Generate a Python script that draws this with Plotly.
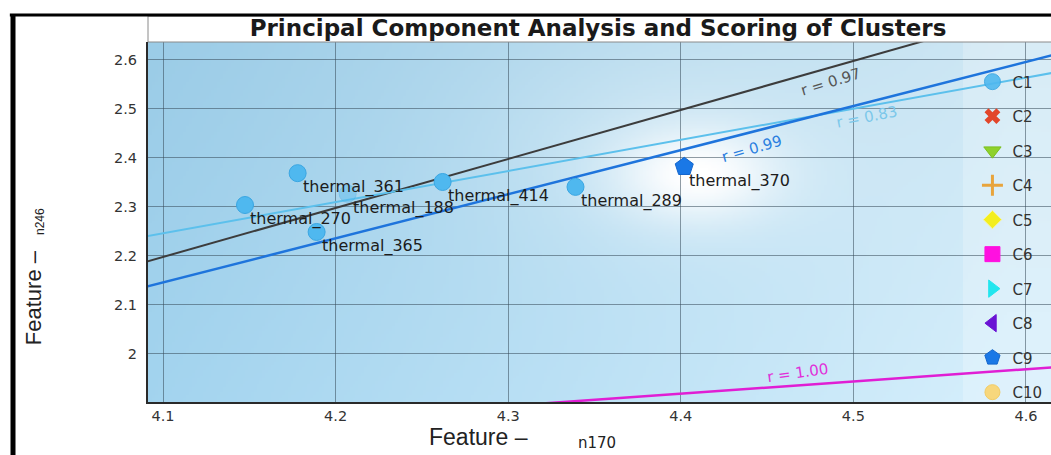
import base64, struct, zlib
import numpy as np
import plotly.graph_objects as go

# ---------------- data ----------------
point_names = ["thermal_361", "thermal_270", "thermal_188", "thermal_365",
               "thermal_414", "thermal_289", "thermal_370"]
point_x = [4.178, 4.1475, 4.207, 4.189, 4.262, 4.339, 4.402]
point_y = [2.369, 2.304, 2.327, 2.249, 2.351, 2.341, 2.382]
point_cluster = ["C1", "C1", "C1", "C1", "C1", "C1", "C9"]

clusters = ["C1", "C2", "C3", "C4", "C5", "C6", "C7", "C8", "C9", "C10"]

fit_labels = ["r = 0.97", "r = 0.83", "r = 0.99", "r = 1.00"]
fit_slope = [1.00, 0.635, 0.90, 0.25]
fit_at_44 = [2.498, 2.437, 2.416, 1.919]     # fitted value at x = 4.4
fit_label_x = [4.487, 4.508, 4.441, 4.468]

x_ticks = [4.1, 4.2, 4.3, 4.4, 4.5, 4.6]
y_ticks = [2.0, 2.1, 2.2, 2.3, 2.4, 2.5, 2.6]

# ---------------- styles ----------------
cluster_style = {
    "C1": dict(symbol="circle", color="#4fb8ef", line=dict(color="#3aa6e2", width=1), size=17),
    "C2": dict(symbol="x", color="#e2462a", line=dict(color="#e2462a", width=0), size=14),
    "C3": dict(symbol="triangle-down", color="#8fd12c", line=dict(color="#7cc020", width=1), size=15),
    "C4": dict(symbol="cross-thin", color="#e8a43c", line=dict(color="#e8a43c", width=3), size=15),
    "C5": dict(symbol="diamond", color="#f3ee1e", line=dict(color="#f7f59a", width=1), size=14),
    "C6": dict(symbol="square", color="#ff10e0", line=dict(color="#ff10e0", width=1), size=15),
    "C7": dict(symbol="triangle-right", color="#22e6ee", line=dict(color="#22e6ee", width=1), size=15),
    "C8": dict(symbol="triangle-left", color="#6a12d4", line=dict(color="#6a12d4", width=1), size=15),
    "C9": dict(symbol="pentagon", color="#1a78e6", line=dict(color="#1466cc", width=1), size=19),
    "C10": dict(symbol="circle", color="#f7d77c", line=dict(color="#f2cc66", width=1), size=15),
}
fit_colors = ["#3c3c3c", "#5cc0ec", "#1e74dc", "#e01ed4"]
fit_label_colors = ["#555555", "#7cc8ea", "#2a7fe0", "#e030d8"]
fit_widths = [2, 2, 2.5, 2.5]
fit_label_angle = [-17, -11, -16, -8]
fit_label_shift = [-15, -11, -17, 12]

X_RANGE = [4.0913, 4.6145]
Y_RANGE = [1.902, 2.6367]

# ---------------- background gradient image ----------------
W, H = 320, 130
u = np.linspace(0, 1, W)[None, :]
v = np.linspace(0, 1, H)[:, None]
c_left = np.array([155, 204, 231], float)
c_right = np.array([206, 231, 244], float)
t = np.clip(u * 1.05, 0, 1)
base = c_left[None, None, :] * (1 - t[..., None]) + c_right[None, None, :] * t[..., None]
base = base + (v[..., None] * 8.0)
glow = np.exp(-(((u - 0.61) / 0.09) ** 2 + ((v - 0.37) / 0.13) ** 2))
glow2 = 0.25 * np.exp(-(((u - 0.58) / 0.20) ** 2 + ((v - 0.30) / 0.30) ** 2))
g = np.clip(glow * 0.8 + glow2, 0, 1)[..., None]
img = base * (1 - g) + 255.0 * g
img = np.clip(img, 0, 255).astype(np.uint8)
raw = b"".join(b"\x00" + img[r].tobytes() for r in range(H))


def _chunk(tag, data):
    return struct.pack(">I", len(data)) + tag + data + struct.pack(">I", zlib.crc32(tag + data) & 0xFFFFFFFF)


png = (b"\x89PNG\r\n\x1a\n"
       + _chunk(b"IHDR", struct.pack(">IIBBBBB", W, H, 8, 2, 0, 0, 0))
       + _chunk(b"IDAT", zlib.compress(raw, 9))
       + _chunk(b"IEND", b""))
bg_uri = "data:image/png;base64," + base64.b64encode(png).decode()

# ---------------- figure ----------------
fig = go.Figure()

line_x = np.array([4.0, 4.7])
for lab, m, b44, col, w in zip(fit_labels, fit_slope, fit_at_44, fit_colors, fit_widths):
    fig.add_trace(go.Scatter(x=line_x, y=b44 + m * (line_x - 4.4), mode="lines",
                             line=dict(color=col, width=w), showlegend=False,
                             hoverinfo="skip", name=lab))

for i, c in enumerate(clusters):
    xs = [x for x, k in zip(point_x, point_cluster) if k == c]
    ys = [y for y, k in zip(point_y, point_cluster) if k == c]
    names = [n for n, k in zip(point_names, point_cluster) if k == c]
    st = cluster_style[c]
    opac = [0.4 if n == "thermal_188" else 1.0 for n in names]
    if not xs:
        xs, ys, names, opac = [None], [None], [""], [1.0]
    fig.add_trace(go.Scatter(
        x=xs, y=ys, mode="markers", name=c, text=names,
        legendgroup=c,
        marker=dict(symbol=st["symbol"], color=st["color"], size=st["size"], line=st["line"],
                    opacity=opac),
    ))

annotations = []
for n, x, y in zip(point_names, point_x, point_y):
    annotations.append(dict(x=x, y=y, text=n, showarrow=False, xanchor="left", yanchor="middle",
                            xshift=3, yshift=-14,
                            font=dict(family="DejaVu Sans", size=16, color="#1c1c1c")))
for lab, m, b44, lx, col, ang, sh in zip(fit_labels, fit_slope, fit_at_44, fit_label_x,
                                         fit_label_colors, fit_label_angle, fit_label_shift):
    annotations.append(dict(x=lx, y=b44 + m * (lx - 4.4), text=lab, showarrow=False,
                            textangle=ang, yshift=sh, xanchor="center", yanchor="middle",
                            font=dict(family="DejaVu Sans", size=15, color=col)))

# axis titles
annotations += [
    dict(xref="paper", yref="paper", x=-0.126, y=0.289, textangle=-90, showarrow=False,
         xanchor="center", yanchor="middle", text="Feature –",
         font=dict(family="Liberation Sans", size=22, color="#222222")),
    dict(xref="paper", yref="paper", x=-0.1196, y=0.50, textangle=-90, showarrow=False,
         xanchor="center", yanchor="middle", text="n246",
         font=dict(family="Liberation Sans", size=12, color="#222222")),
    dict(xref="paper", yref="paper", x=0.366, y=-0.098, showarrow=False,
         xanchor="center", yanchor="middle", text="Feature –",
         font=dict(family="Liberation Sans", size=23, color="#222222")),
    dict(xref="paper", yref="paper", x=0.497, y=-0.113, showarrow=False,
         xanchor="center", yanchor="middle", text="n170",
         font=dict(family="DejaVu Sans", size=15, color="#222222")),
]

shapes = [
    # legend strip
    dict(type="rect", xref="paper", yref="paper", x0=0.9025, x1=1.0, y0=0, y1=1,
         fillcolor="rgba(255,255,255,0.22)", line=dict(width=0), layer="below"),
    # title box
    dict(type="rect", xref="paper", yref="paper", x0=0.0, x1=1.01, y0=1.0, y1=1.072,
         fillcolor="white", line=dict(color="#8a8a8a", width=1)),
    # outer black frame
    dict(type="line", xref="paper", yref="paper", x0=-0.153, x1=1.01, y0=1.075, y1=1.075,
         line=dict(color="black", width=3)),
    dict(type="line", xref="paper", yref="paper", x0=-0.1495, x1=-0.1495, y0=1.078, y1=-0.2,
         line=dict(color="black", width=5)),
]

axis_common = dict(showgrid=True, gridcolor="rgba(55,75,90,0.55)", gridwidth=1,
                   zeroline=False, showline=True, linecolor="#2a2a2a", linewidth=2,
                   tickfont=dict(family="DejaVu Sans", size=14.5, color="#333333"))

fig.update_layout(
    width=1051, height=455,
    margin=dict(l=148, r=0, t=42, b=53),
    paper_bgcolor="white",
    plot_bgcolor="#a8d3ea",
    title=dict(text="<b>Principal Component Analysis and Scoring of Clusters</b>",
               x=0.569, xanchor="center", y=1 - 28 / 455, yanchor="middle",
               font=dict(family="DejaVu Sans", size=23, color="#1a1a1a")),
    xaxis=dict(range=X_RANGE, tickvals=x_ticks, ticktext=[f"{v:g}" for v in x_ticks],
               ticks="", **axis_common),
    yaxis=dict(range=Y_RANGE, tickvals=y_ticks, ticktext=[f"{v:g}" for v in y_ticks],
               ticks="outside", ticklen=6, tickcolor="rgba(0,0,0,0)", **axis_common),
    legend=dict(x=0.913, xanchor="left", y=0.935, yanchor="top",
                bgcolor="rgba(0,0,0,0)", borderwidth=0,
                font=dict(family="DejaVu Sans", size=15, color="#333333"),
                traceorder="grouped", tracegroupgap=12, itemsizing="trace"),
    images=[dict(source=bg_uri, xref="paper", yref="paper", x=0, y=1, sizex=1, sizey=1,
                 xanchor="left", yanchor="top", sizing="stretch", layer="below")],
    shapes=shapes,
    annotations=annotations,
    showlegend=True,
)

fig.write_html("out.html", config={"displayModeBar": False},
               post_script="document.body.style.margin='0';")
